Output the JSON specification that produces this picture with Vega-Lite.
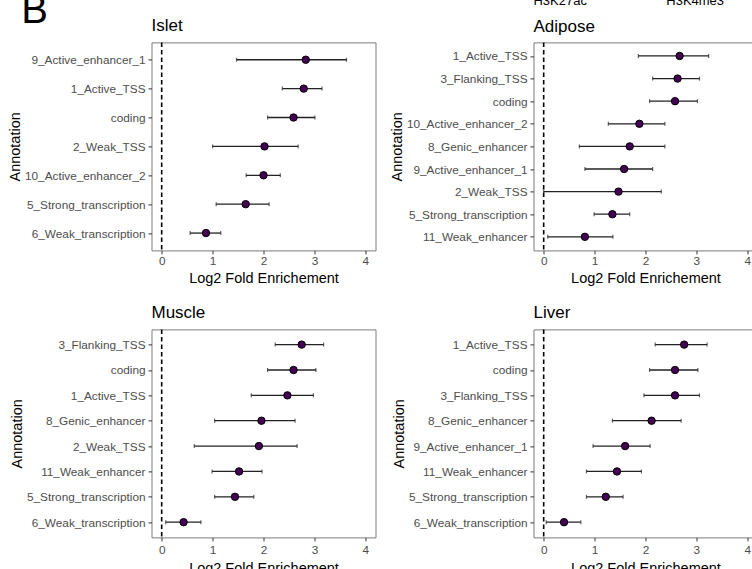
{
  "$schema": "https://vega.github.io/schema/vega-lite/v6.json",
  "background": "white",
  "padding": {"left": 6.5, "top": -9.6, "right": 0, "bottom": 0},
  "title": {"text": "B", "anchor": "start", "frame": "bounds", "fontSize": 40, "offset": -36, "dx": 14.5},
  "datasets": {
    "islet": [
      {"annotation": "9_Active_enhancer_1", "est": 2.83, "lo": 1.47, "hi": 3.63},
      {"annotation": "1_Active_TSS", "est": 2.79, "lo": 2.37, "hi": 3.15},
      {"annotation": "coding", "est": 2.59, "lo": 2.08, "hi": 3.01},
      {"annotation": "2_Weak_TSS", "est": 2.02, "lo": 1.0, "hi": 2.68},
      {"annotation": "10_Active_enhancer_2", "est": 2.0, "lo": 1.66, "hi": 2.33},
      {"annotation": "5_Strong_transcription", "est": 1.65, "lo": 1.07, "hi": 2.11},
      {"annotation": "6_Weak_transcription", "est": 0.87, "lo": 0.56, "hi": 1.16}
    ],
    "adipose": [
      {"annotation": "1_Active_TSS", "est": 2.67, "lo": 1.86, "hi": 3.24},
      {"annotation": "3_Flanking_TSS", "est": 2.63, "lo": 2.14, "hi": 3.06},
      {"annotation": "coding", "est": 2.58, "lo": 2.08, "hi": 3.02},
      {"annotation": "10_Active_enhancer_2", "est": 1.88, "lo": 1.27, "hi": 2.38},
      {"annotation": "8_Genic_enhancer", "est": 1.69, "lo": 0.7, "hi": 2.38},
      {"annotation": "9_Active_enhancer_1", "est": 1.58, "lo": 0.81, "hi": 2.14},
      {"annotation": "2_Weak_TSS", "est": 1.47, "lo": 0.0, "hi": 2.31},
      {"annotation": "5_Strong_transcription", "est": 1.35, "lo": 0.99, "hi": 1.69},
      {"annotation": "11_Weak_enhancer", "est": 0.81, "lo": 0.08, "hi": 1.36}
    ],
    "muscle": [
      {"annotation": "3_Flanking_TSS", "est": 2.75, "lo": 2.23, "hi": 3.18},
      {"annotation": "coding", "est": 2.59, "lo": 2.08, "hi": 3.03},
      {"annotation": "1_Active_TSS", "est": 2.47, "lo": 1.76, "hi": 2.98},
      {"annotation": "8_Genic_enhancer", "est": 1.96, "lo": 1.04, "hi": 2.62},
      {"annotation": "2_Weak_TSS", "est": 1.91, "lo": 0.64, "hi": 2.66},
      {"annotation": "11_Weak_enhancer", "est": 1.52, "lo": 0.99, "hi": 1.97},
      {"annotation": "5_Strong_transcription", "est": 1.44, "lo": 1.04, "hi": 1.81},
      {"annotation": "6_Weak_transcription", "est": 0.43, "lo": 0.08, "hi": 0.77}
    ],
    "liver": [
      {"annotation": "1_Active_TSS", "est": 2.76, "lo": 2.19, "hi": 3.21},
      {"annotation": "coding", "est": 2.58, "lo": 2.08, "hi": 3.03},
      {"annotation": "3_Flanking_TSS", "est": 2.58, "lo": 1.97, "hi": 3.06},
      {"annotation": "8_Genic_enhancer", "est": 2.12, "lo": 1.35, "hi": 2.7},
      {"annotation": "9_Active_enhancer_1", "est": 1.6, "lo": 0.97, "hi": 2.09},
      {"annotation": "11_Weak_enhancer", "est": 1.44, "lo": 0.84, "hi": 1.92},
      {"annotation": "5_Strong_transcription", "est": 1.22, "lo": 0.84, "hi": 1.56},
      {"annotation": "6_Weak_transcription", "est": 0.4, "lo": 0.05, "hi": 0.73}
    ]
  },
  "columns": 2,
  "spacing": {"column": 12, "row": 16},
  "concat": [
    {
      "title": {"text": "Islet"},
      "width": 224, "height": 208,
      "layer": [
        {"data": {"values": [{}]}, "mark": {"type": "rule", "color": "black", "strokeWidth": 1.6, "strokeDash": [4.5, 3]}, "encoding": {"x": {"datum": 0, "type": "quantitative"}}},
        {"data": {"name": "islet"}, "mark": {"type": "rule", "color": "#222222", "strokeWidth": 1.3}, "encoding": {"y": {"field": "annotation", "type": "nominal", "sort": null}, "x": {"field": "lo", "type": "quantitative"}, "x2": {"field": "hi"}}},
        {"data": {"name": "islet"}, "mark": {"type": "tick", "orient": "vertical", "size": 4, "thickness": 1.2, "color": "#222222"}, "encoding": {"y": {"field": "annotation", "type": "nominal", "sort": null}, "x": {"field": "lo", "type": "quantitative"}}},
        {"data": {"name": "islet"}, "mark": {"type": "tick", "orient": "vertical", "size": 4, "thickness": 1.2, "color": "#222222"}, "encoding": {"y": {"field": "annotation", "type": "nominal", "sort": null}, "x": {"field": "hi", "type": "quantitative"}}},
        {"data": {"name": "islet"}, "mark": {"type": "point", "filled": true, "fill": "#440154", "stroke": "black", "strokeWidth": 1, "size": 55, "opacity": 1}, "encoding": {"y": {"field": "annotation", "type": "nominal", "sort": null, "scale": {"type": "point", "padding": 0.6}, "axis": {"title": "Annotation"}}, "x": {"field": "est", "type": "quantitative", "scale": {"domain": [-0.2, 4.2], "nice": false, "zero": false}, "axis": {"title": "Log2 Fold Enrichement", "values": [0, 1, 2, 3, 4]}}}}
      ]
    },
    {
      "title": {"text": "H3K27ac\u00a0\u00a0\u00a0\u00a0\u00a0\u00a0\u00a0\u00a0\u00a0\u00a0\u00a0\u00a0\u00a0\u00a0\u00a0\u00a0\u00a0\u00a0\u00a0\u00a0\u00a0\u00a0H3K4me3", "fontSize": 13, "subtitle": "Adipose", "subtitleFontSize": 17, "subtitleColor": "black", "subtitleFont": "Liberation Sans", "subtitlePadding": 10.5},
      "width": 224, "height": 208,
      "layer": [
        {"data": {"values": [{}]}, "mark": {"type": "rule", "color": "black", "strokeWidth": 1.6, "strokeDash": [4.5, 3]}, "encoding": {"x": {"datum": 0, "type": "quantitative"}}},
        {"data": {"name": "adipose"}, "mark": {"type": "rule", "color": "#222222", "strokeWidth": 1.3}, "encoding": {"y": {"field": "annotation", "type": "nominal", "sort": null}, "x": {"field": "lo", "type": "quantitative"}, "x2": {"field": "hi"}}},
        {"data": {"name": "adipose"}, "mark": {"type": "tick", "orient": "vertical", "size": 4, "thickness": 1.2, "color": "#222222"}, "encoding": {"y": {"field": "annotation", "type": "nominal", "sort": null}, "x": {"field": "lo", "type": "quantitative"}}},
        {"data": {"name": "adipose"}, "mark": {"type": "tick", "orient": "vertical", "size": 4, "thickness": 1.2, "color": "#222222"}, "encoding": {"y": {"field": "annotation", "type": "nominal", "sort": null}, "x": {"field": "hi", "type": "quantitative"}}},
        {"data": {"name": "adipose"}, "mark": {"type": "point", "filled": true, "fill": "#440154", "stroke": "black", "strokeWidth": 1, "size": 55, "opacity": 1}, "encoding": {"y": {"field": "annotation", "type": "nominal", "sort": null, "scale": {"type": "point", "padding": 0.6}, "axis": {"title": "Annotation"}}, "x": {"field": "est", "type": "quantitative", "scale": {"domain": [-0.2, 4.2], "nice": false, "zero": false}, "axis": {"title": "Log2 Fold Enrichement", "values": [0, 1, 2, 3, 4]}}}}
      ]
    },
    {
      "title": {"text": "Muscle"},
      "width": 224, "height": 208,
      "layer": [
        {"data": {"values": [{}]}, "mark": {"type": "rule", "color": "black", "strokeWidth": 1.6, "strokeDash": [4.5, 3]}, "encoding": {"x": {"datum": 0, "type": "quantitative"}}},
        {"data": {"name": "muscle"}, "mark": {"type": "rule", "color": "#222222", "strokeWidth": 1.3}, "encoding": {"y": {"field": "annotation", "type": "nominal", "sort": null}, "x": {"field": "lo", "type": "quantitative"}, "x2": {"field": "hi"}}},
        {"data": {"name": "muscle"}, "mark": {"type": "tick", "orient": "vertical", "size": 4, "thickness": 1.2, "color": "#222222"}, "encoding": {"y": {"field": "annotation", "type": "nominal", "sort": null}, "x": {"field": "lo", "type": "quantitative"}}},
        {"data": {"name": "muscle"}, "mark": {"type": "tick", "orient": "vertical", "size": 4, "thickness": 1.2, "color": "#222222"}, "encoding": {"y": {"field": "annotation", "type": "nominal", "sort": null}, "x": {"field": "hi", "type": "quantitative"}}},
        {"data": {"name": "muscle"}, "mark": {"type": "point", "filled": true, "fill": "#440154", "stroke": "black", "strokeWidth": 1, "size": 55, "opacity": 1}, "encoding": {"y": {"field": "annotation", "type": "nominal", "sort": null, "scale": {"type": "point", "padding": 0.6}, "axis": {"title": "Annotation"}}, "x": {"field": "est", "type": "quantitative", "scale": {"domain": [-0.2, 4.2], "nice": false, "zero": false}, "axis": {"title": "Log2 Fold Enrichement", "values": [0, 1, 2, 3, 4], "labelPadding": 4, "titlePadding": 5}}}}
      ]
    },
    {
      "title": {"text": "Liver"},
      "width": 224, "height": 208,
      "layer": [
        {"data": {"values": [{}]}, "mark": {"type": "rule", "color": "black", "strokeWidth": 1.6, "strokeDash": [4.5, 3]}, "encoding": {"x": {"datum": 0, "type": "quantitative"}}},
        {"data": {"name": "liver"}, "mark": {"type": "rule", "color": "#222222", "strokeWidth": 1.3}, "encoding": {"y": {"field": "annotation", "type": "nominal", "sort": null}, "x": {"field": "lo", "type": "quantitative"}, "x2": {"field": "hi"}}},
        {"data": {"name": "liver"}, "mark": {"type": "tick", "orient": "vertical", "size": 4, "thickness": 1.2, "color": "#222222"}, "encoding": {"y": {"field": "annotation", "type": "nominal", "sort": null}, "x": {"field": "lo", "type": "quantitative"}}},
        {"data": {"name": "liver"}, "mark": {"type": "tick", "orient": "vertical", "size": 4, "thickness": 1.2, "color": "#222222"}, "encoding": {"y": {"field": "annotation", "type": "nominal", "sort": null}, "x": {"field": "hi", "type": "quantitative"}}},
        {"data": {"name": "liver"}, "mark": {"type": "point", "filled": true, "fill": "#440154", "stroke": "black", "strokeWidth": 1, "size": 55, "opacity": 1}, "encoding": {"y": {"field": "annotation", "type": "nominal", "sort": null, "scale": {"type": "point", "padding": 0.6}, "axis": {"title": "Annotation"}}, "x": {"field": "est", "type": "quantitative", "scale": {"domain": [-0.2, 4.2], "nice": false, "zero": false}, "axis": {"title": "Log2 Fold Enrichement", "values": [0, 1, 2, 3, 4], "labelPadding": 4, "titlePadding": 5}}}}
      ]
    }
  ],
  "config": {
    "font": "Liberation Sans",
    "view": {"stroke": "#7a7a7a", "strokeWidth": 1},
    "axis": {"grid": false, "domain": false, "labelFont": "Liberation Sans", "labelFontSize": 11.8, "labelColor": "#4d4d4d", "tickColor": "#333333", "tickSize": 3.5, "labelPadding": 3, "titleFont": "Liberation Sans", "titleFontSize": 14.5, "titleFontWeight": "normal", "titleColor": "black", "labelLimit": 300},
    "axisX": {"labelPadding": 2, "titlePadding": 4},
    "axisY": {"titlePadding": 2},
    "title": {"font": "Liberation Sans", "fontWeight": "normal", "fontSize": 17, "anchor": "start", "color": "black", "frame": "group", "offset": 7}
  }
}
